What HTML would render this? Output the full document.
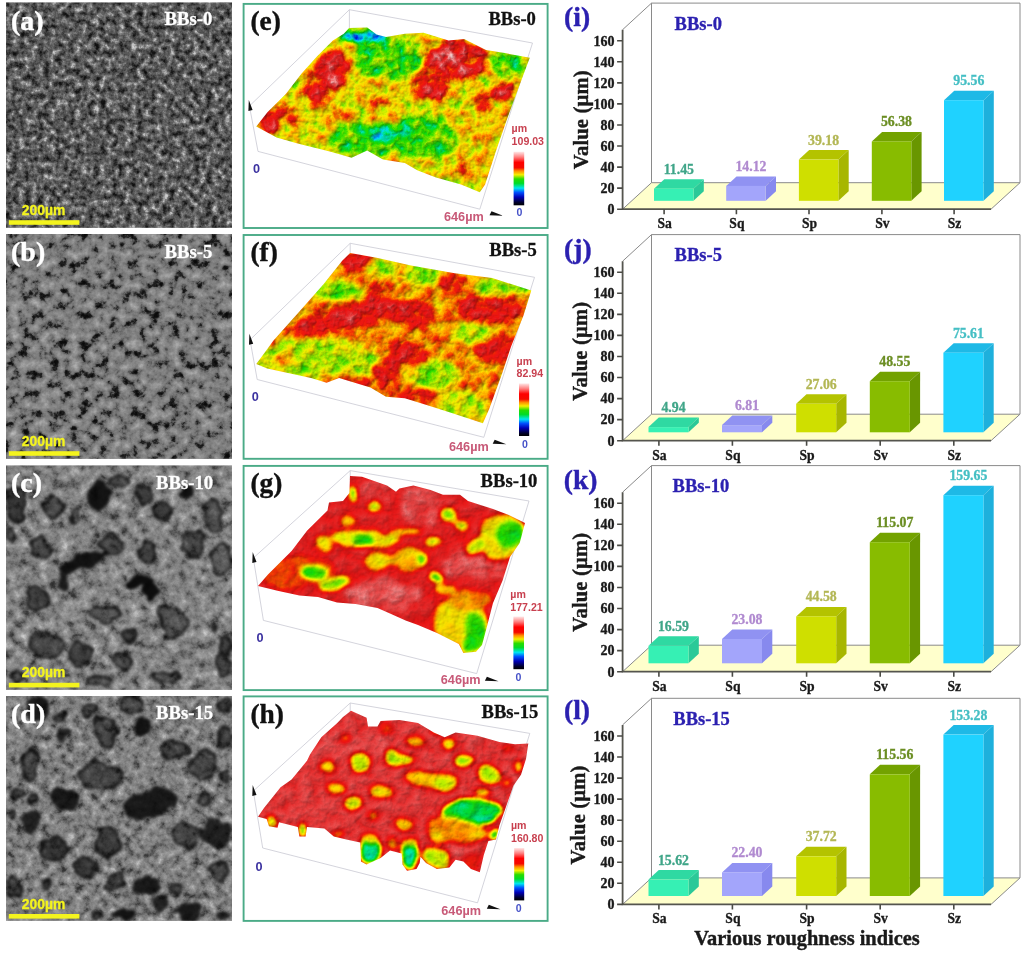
<!DOCTYPE html>
<html lang="en"><head><meta charset="utf-8"><title>Surface roughness figure</title>
<style>
html,body{margin:0;padding:0;background:#fff;}
body{width:1024px;height:954px;overflow:hidden;}
svg{display:block;}
text{font-family:"Liberation Serif",serif;font-weight:bold;}
.tk{font-size:14px;fill:#1a1a1a;stroke:#1a1a1a;stroke-width:.35px;}
.ct{font-size:13.6px;fill:#1a1a1a;stroke:#1a1a1a;stroke-width:.3px;}
.vl{font-size:13.8px;stroke-width:.3px;}
.yl{font-size:20.6px;fill:#1a1a1a;stroke:#1a1a1a;stroke-width:.4px;letter-spacing:.15px;}
.xl{font-size:20.4px;fill:#1a1a1a;stroke:#1a1a1a;stroke-width:.4px;}
.tagb{font-size:27.6px;fill:#2b20b0;stroke:#2b20b0;stroke-width:.4px;}
.nmb{font-size:18.5px;fill:#2b20b0;stroke:#2b20b0;stroke-width:.3px;}
.tagw{font-size:28px;fill:#fff;stroke:#fff;stroke-width:.4px;}
.nmw{font-size:18.7px;fill:#fff;stroke:#fff;stroke-width:.3px;}
.tagk{font-size:27.4px;fill:#111;stroke:#111;stroke-width:.4px;}
.nmk{font-size:18.6px;fill:#111;stroke:#111;stroke-width:.3px;}
.sb,.cb,.ax{font-family:"Liberation Sans",sans-serif;font-weight:bold;}
.sb{font-size:13.9px;fill:#f4f41e;stroke:#f4f41e;stroke-width:.3px;}
.cb{font-size:10.6px;}
.ax{font-size:12.7px;}
</style></head>
<body>
<svg width="1024" height="954" viewBox="0 0 1024 954">
<defs>
<filter id="sn0" filterUnits="userSpaceOnUse" x="6.0" y="2.5" width="226.0" height="225.2" color-interpolation-filters="sRGB">
<feTurbulence type="fractalNoise" baseFrequency="0.16" numOctaves="4" seed="3" result="t"/>
<feColorMatrix in="t" type="matrix" values="1 0 0 0 0 1 0 0 0 0 1 0 0 0 0 0 0 0 0 1"/>
<feComponentTransfer><feFuncR type="table" tableValues="0.030 0.036 0.042 0.049 0.055 0.061 0.068 0.074 0.080 0.103 0.125 0.148 0.170 0.195 0.220 0.245 0.270 0.294 0.312 0.331 0.350 0.372 0.394 0.416 0.443 0.473 0.502 0.531 0.560 0.605 0.650 0.695 0.740 0.760 0.780 0.800 0.820 0.840 0.860 0.880 0.900"/><feFuncG type="table" tableValues="0.030 0.036 0.042 0.049 0.055 0.061 0.068 0.074 0.080 0.103 0.125 0.148 0.170 0.195 0.220 0.245 0.270 0.294 0.312 0.331 0.350 0.372 0.394 0.416 0.443 0.473 0.502 0.531 0.560 0.605 0.650 0.695 0.740 0.760 0.780 0.800 0.820 0.840 0.860 0.880 0.900"/><feFuncB type="table" tableValues="0.030 0.036 0.042 0.049 0.055 0.061 0.068 0.074 0.080 0.103 0.125 0.148 0.170 0.195 0.220 0.245 0.270 0.294 0.312 0.331 0.350 0.372 0.394 0.416 0.443 0.473 0.502 0.531 0.560 0.605 0.650 0.695 0.740 0.760 0.780 0.800 0.820 0.840 0.860 0.880 0.900"/></feComponentTransfer>
</filter>
<clipPath id="sc0"><rect x="6.0" y="2.5" width="226.0" height="225.2"/></clipPath>
<filter id="sn1" filterUnits="userSpaceOnUse" x="6.0" y="234.0" width="226.0" height="224.8" color-interpolation-filters="sRGB">
<feTurbulence type="fractalNoise" baseFrequency="0.1" numOctaves="4" seed="11" result="t"/>
<feColorMatrix in="t" type="matrix" values="1 0 0 0 0 1 0 0 0 0 1 0 0 0 0 0 0 0 0 1"/>
<feComponentTransfer><feFuncR type="table" tableValues="0.020 0.024 0.028 0.031 0.035 0.039 0.043 0.046 0.050 0.073 0.095 0.118 0.140 0.208 0.276 0.337 0.371 0.406 0.440 0.460 0.480 0.492 0.505 0.518 0.530 0.542 0.555 0.568 0.580 0.595 0.610 0.625 0.640 0.654 0.668 0.681 0.695 0.709 0.723 0.736 0.750"/><feFuncG type="table" tableValues="0.020 0.024 0.028 0.031 0.035 0.039 0.043 0.046 0.050 0.073 0.095 0.118 0.140 0.208 0.276 0.337 0.371 0.406 0.440 0.460 0.480 0.492 0.505 0.518 0.530 0.542 0.555 0.568 0.580 0.595 0.610 0.625 0.640 0.654 0.668 0.681 0.695 0.709 0.723 0.736 0.750"/><feFuncB type="table" tableValues="0.020 0.024 0.028 0.031 0.035 0.039 0.043 0.046 0.050 0.073 0.095 0.118 0.140 0.208 0.276 0.337 0.371 0.406 0.440 0.460 0.480 0.492 0.505 0.518 0.530 0.542 0.555 0.568 0.580 0.595 0.610 0.625 0.640 0.654 0.668 0.681 0.695 0.709 0.723 0.736 0.750"/></feComponentTransfer>
</filter>
<clipPath id="sc1"><rect x="6.0" y="234.0" width="226.0" height="224.8"/></clipPath>
<filter id="sn2" filterUnits="userSpaceOnUse" x="6.0" y="465.5" width="226.0" height="224.3" color-interpolation-filters="sRGB">
<feTurbulence type="fractalNoise" baseFrequency="0.1" numOctaves="4" seed="7" result="t"/>
<feColorMatrix in="t" type="matrix" values="1 0 0 0 0 1 0 0 0 0 1 0 0 0 0 0 0 0 0 1"/>
<feComponentTransfer><feFuncR type="table" tableValues="0.120 0.135 0.150 0.165 0.180 0.195 0.210 0.225 0.240 0.267 0.295 0.323 0.350 0.373 0.396 0.419 0.442 0.463 0.479 0.494 0.510 0.523 0.535 0.548 0.562 0.576 0.591 0.605 0.620 0.640 0.660 0.680 0.700 0.719 0.738 0.756 0.775 0.794 0.812 0.831 0.850"/><feFuncG type="table" tableValues="0.120 0.135 0.150 0.165 0.180 0.195 0.210 0.225 0.240 0.267 0.295 0.323 0.350 0.373 0.396 0.419 0.442 0.463 0.479 0.494 0.510 0.523 0.535 0.548 0.562 0.576 0.591 0.605 0.620 0.640 0.660 0.680 0.700 0.719 0.738 0.756 0.775 0.794 0.812 0.831 0.850"/><feFuncB type="table" tableValues="0.120 0.135 0.150 0.165 0.180 0.195 0.210 0.225 0.240 0.267 0.295 0.323 0.350 0.373 0.396 0.419 0.442 0.463 0.479 0.494 0.510 0.523 0.535 0.548 0.562 0.576 0.591 0.605 0.620 0.640 0.660 0.680 0.700 0.719 0.738 0.756 0.775 0.794 0.812 0.831 0.850"/></feComponentTransfer>
</filter>
<clipPath id="sc2"><rect x="6.0" y="465.5" width="226.0" height="224.3"/></clipPath>
<filter id="sn3" filterUnits="userSpaceOnUse" x="6.0" y="696.0" width="226.0" height="224.8" color-interpolation-filters="sRGB">
<feTurbulence type="fractalNoise" baseFrequency="0.12" numOctaves="4" seed="21" result="t"/>
<feColorMatrix in="t" type="matrix" values="1 0 0 0 0 1 0 0 0 0 1 0 0 0 0 0 0 0 0 1"/>
<feComponentTransfer><feFuncR type="table" tableValues="0.120 0.135 0.150 0.165 0.180 0.195 0.210 0.225 0.240 0.267 0.295 0.323 0.350 0.371 0.392 0.412 0.433 0.453 0.469 0.484 0.500 0.513 0.525 0.538 0.552 0.566 0.581 0.595 0.610 0.630 0.650 0.670 0.690 0.710 0.730 0.750 0.770 0.790 0.810 0.830 0.850"/><feFuncG type="table" tableValues="0.120 0.135 0.150 0.165 0.180 0.195 0.210 0.225 0.240 0.267 0.295 0.323 0.350 0.371 0.392 0.412 0.433 0.453 0.469 0.484 0.500 0.513 0.525 0.538 0.552 0.566 0.581 0.595 0.610 0.630 0.650 0.670 0.690 0.710 0.730 0.750 0.770 0.790 0.810 0.830 0.850"/><feFuncB type="table" tableValues="0.120 0.135 0.150 0.165 0.180 0.195 0.210 0.225 0.240 0.267 0.295 0.323 0.350 0.371 0.392 0.412 0.433 0.453 0.469 0.484 0.500 0.513 0.525 0.538 0.552 0.566 0.581 0.595 0.610 0.630 0.650 0.670 0.690 0.710 0.730 0.750 0.770 0.790 0.810 0.830 0.850"/></feComponentTransfer>
</filter>
<clipPath id="sc3"><rect x="6.0" y="696.0" width="226.0" height="224.8"/></clipPath>
<filter id="sblob" x="-10%" y="-10%" width="120%" height="120%" color-interpolation-filters="sRGB">
<feTurbulence type="fractalNoise" baseFrequency="0.06" numOctaves="2" seed="2" result="d"/>
<feDisplacementMap in="SourceGraphic" in2="d" scale="14" xChannelSelector="R" yChannelSelector="G" result="dd"/>
<feGaussianBlur in="dd" stdDeviation="1.6"/>
</filter>
<linearGradient id="cbar" x1="0" y1="0" x2="0" y2="1">
<stop offset="0" stop-color="#ffe8e8"/><stop offset="0.10" stop-color="#ff8080"/><stop offset="0.20" stop-color="#ff0000"/>
<stop offset="0.30" stop-color="#f40a00"/><stop offset="0.36" stop-color="#ff8c00"/><stop offset="0.43" stop-color="#f5f000"/>
<stop offset="0.51" stop-color="#28dc00"/><stop offset="0.59" stop-color="#00dc28"/><stop offset="0.68" stop-color="#00e6f0"/>
<stop offset="0.76" stop-color="#0050ff"/><stop offset="0.85" stop-color="#0000b4"/><stop offset="0.95" stop-color="#000028"/>
<stop offset="1" stop-color="#000000"/></linearGradient>
<clipPath id="vc0"><polygon points="349.1,28.1 367.2,27.5 376.6,34.4 386,36.9 404.8,33.8 423.5,32.8 448.5,40.6 464.1,39.1 486,50 504.8,53.1 529.8,57.8 521,81.2 507.2,118.8 496.3,150 485.1,184.4 479.8,192.2 461,184.4 436,177.5 417.2,170.3 404.8,163.1 382.9,159.4 367.2,150.6 351.6,157.8 329.8,151.6 298.5,143.8 276.6,137.5 256.3,126.6 267.2,112.5 286,93.8 301.6,73.4 317.2,56.2 332.9,40.6 343.8,33.8"/></clipPath>
<filter id="vf0" filterUnits="userSpaceOnUse" x="252.3" y="23.5" width="281.4" height="172.7" color-interpolation-filters="sRGB">
<feTurbulence type="fractalNoise" baseFrequency="0.035" numOctaves="2" seed="44" result="dn"/>
<feDisplacementMap in="SourceGraphic" in2="dn" scale="12" xChannelSelector="R" yChannelSelector="G" result="dh"/>
<feGaussianBlur in="dh" stdDeviation="3.0" result="h"/>
<feTurbulence type="fractalNoise" baseFrequency="0.09" numOctaves="4" seed="4" result="n"/>
<feColorMatrix in="n" type="matrix" values="1 0 0 0 0 1 0 0 0 0 1 0 0 0 0 0 0 0 0 1" result="ng"/>
<feComposite in="h" in2="ng" operator="arithmetic" k1="0" k2="1" k3="0.4" k4="-0.200" result="hn"/>
<feComponentTransfer in="hn" result="col"><feFuncR type="table" tableValues="0.000 0.000 0.000 0.000 0.000 0.000 0.000 0.000 0.118 0.392 0.706 0.941 1.000 1.000 0.980 0.941 0.922 0.902 0.922 0.961 1.000"/><feFuncG type="table" tableValues="0.000 0.000 0.000 0.235 0.588 0.863 0.902 0.863 0.863 0.902 0.941 0.941 0.824 0.627 0.353 0.118 0.078 0.157 0.314 0.588 0.863"/><feFuncB type="table" tableValues="0.000 0.353 0.784 1.000 1.000 0.941 0.627 0.235 0.000 0.000 0.000 0.000 0.000 0.000 0.000 0.039 0.078 0.157 0.314 0.588 0.863"/><feFuncA type="linear" slope="0" intercept="1"/></feComponentTransfer>
<feColorMatrix in="n" type="matrix" values="0 0 0 0 0 0 0 0 0 0 0 0 0 0 0 1 0 0 0 0" result="ha"/>
<feDiffuseLighting in="ha" surfaceScale="2" diffuseConstant="1.12" lighting-color="#ffffff" result="lit"><feDistantLight azimuth="235" elevation="58"/></feDiffuseLighting>
<feBlend in="col" in2="lit" mode="multiply"/>
</filter>
<clipPath id="vc1"><polygon points="350.1,253 376.6,257.7 411,265.5 454.8,273.3 492.2,278 531.3,290.5 523.5,315.5 511,346.8 501.6,374.9 489.1,409.2 482.9,423.3 454.8,413.9 429.8,406.1 404.8,398.3 386,396.8 370.4,387.4 339.1,378 326.6,382.7 311,378 267.2,368.6 256.3,363.9 273.5,340.5 298.5,312.4 323.5,284.2 342.2,260.8"/></clipPath>
<filter id="vf1" filterUnits="userSpaceOnUse" x="252.3" y="249" width="283" height="178.3" color-interpolation-filters="sRGB">
<feTurbulence type="fractalNoise" baseFrequency="0.035" numOctaves="2" seed="49" result="dn"/>
<feDisplacementMap in="SourceGraphic" in2="dn" scale="12" xChannelSelector="R" yChannelSelector="G" result="dh"/>
<feGaussianBlur in="dh" stdDeviation="3.0" result="h"/>
<feTurbulence type="fractalNoise" baseFrequency="0.09" numOctaves="4" seed="9" result="n"/>
<feColorMatrix in="n" type="matrix" values="1 0 0 0 0 1 0 0 0 0 1 0 0 0 0 0 0 0 0 1" result="ng"/>
<feComposite in="h" in2="ng" operator="arithmetic" k1="0" k2="1" k3="0.3" k4="-0.150" result="hn"/>
<feComponentTransfer in="hn" result="col"><feFuncR type="table" tableValues="0.000 0.000 0.000 0.000 0.000 0.000 0.000 0.000 0.118 0.392 0.706 0.941 1.000 1.000 0.980 0.941 0.922 0.902 0.922 0.961 1.000"/><feFuncG type="table" tableValues="0.000 0.000 0.000 0.235 0.588 0.863 0.902 0.863 0.863 0.902 0.941 0.941 0.824 0.627 0.353 0.118 0.078 0.157 0.314 0.588 0.863"/><feFuncB type="table" tableValues="0.000 0.353 0.784 1.000 1.000 0.941 0.627 0.235 0.000 0.000 0.000 0.000 0.000 0.000 0.000 0.039 0.078 0.157 0.314 0.588 0.863"/><feFuncA type="linear" slope="0" intercept="1"/></feComponentTransfer>
<feColorMatrix in="n" type="matrix" values="0 0 0 0 0 0 0 0 0 0 0 0 0 0 0 1 0 0 0 0" result="ha"/>
<feDiffuseLighting in="ha" surfaceScale="2" diffuseConstant="1.12" lighting-color="#ffffff" result="lit"><feDistantLight azimuth="235" elevation="58"/></feDiffuseLighting>
<feBlend in="col" in2="lit" mode="multiply"/>
</filter>
<clipPath id="vc2"><polygon points="350,476 362,476.8 387,485.4 396,491.7 399.4,488.6 413.4,485.4 430.6,490 443,494.8 460,494.8 468,501 493,508.9 508.8,515 525,523 519.7,543 510,557 502.5,580.8 493,603 486.9,626.7 482,645 476,651.7 463.4,653 458.8,644 437,633 418,625 405.6,620.4 390,613.4 377.5,608 355.6,604 337,602.5 318,597 299.4,595.4 277.5,590.8 258,586 268,574.5 291.6,551 307,530.8 327.5,510.4 329,502.6 343,501 349.4,493"/></clipPath>
<filter id="vf2" filterUnits="userSpaceOnUse" x="254" y="472" width="275" height="185" color-interpolation-filters="sRGB">
<feTurbulence type="fractalNoise" baseFrequency="0.035" numOctaves="2" seed="54" result="dn"/>
<feDisplacementMap in="SourceGraphic" in2="dn" scale="12" xChannelSelector="R" yChannelSelector="G" result="dh"/>
<feGaussianBlur in="dh" stdDeviation="2.6" result="h"/>
<feTurbulence type="fractalNoise" baseFrequency="0.07" numOctaves="4" seed="14" result="n"/>
<feColorMatrix in="n" type="matrix" values="1 0 0 0 0 1 0 0 0 0 1 0 0 0 0 0 0 0 0 1" result="ng"/>
<feComposite in="h" in2="ng" operator="arithmetic" k1="0" k2="1" k3="0.12" k4="-0.060" result="hn"/>
<feComponentTransfer in="hn" result="col"><feFuncR type="table" tableValues="0.000 0.000 0.000 0.000 0.000 0.000 0.000 0.000 0.118 0.392 0.706 0.941 1.000 1.000 0.980 0.941 0.922 0.902 0.922 0.961 1.000"/><feFuncG type="table" tableValues="0.000 0.000 0.000 0.235 0.588 0.863 0.902 0.863 0.863 0.902 0.941 0.941 0.824 0.627 0.353 0.118 0.078 0.157 0.314 0.588 0.863"/><feFuncB type="table" tableValues="0.000 0.353 0.784 1.000 1.000 0.941 0.627 0.235 0.000 0.000 0.000 0.000 0.000 0.000 0.000 0.039 0.078 0.157 0.314 0.588 0.863"/><feFuncA type="linear" slope="0" intercept="1"/></feComponentTransfer>
<feColorMatrix in="n" type="matrix" values="0 0 0 0 0 0 0 0 0 0 0 0 0 0 0 1 0 0 0 0" result="ha"/>
<feDiffuseLighting in="ha" surfaceScale="1.3" diffuseConstant="1.12" lighting-color="#ffffff" result="lit"><feDistantLight azimuth="235" elevation="58"/></feDiffuseLighting>
<feBlend in="col" in2="lit" mode="multiply"/>
</filter>
<clipPath id="vc3"><polygon points="351,710.8 366.6,717.8 368,726.4 377.5,726.4 380.6,721 399.4,720 418,723 433.8,732.6 444.7,737.3 455.6,732.6 477.5,735.8 499.4,742 515,744.3 528.3,743.6 526,759 521,774.8 513.4,785.8 505.6,808 499.4,825.4 496,839.5 488.4,841 483.8,855 479.8,872.3 471,869 463.4,861.4 455.6,859.8 449.4,867.6 436.9,869 426,863 420.5,856.7 419.7,863 416.5,869 407,870.8 402.5,864.5 401.7,853.5 390,850.4 380.6,858 366.5,864.5 361,861.4 360.3,842.6 346.3,839.5 333.8,836.4 324.4,828.5 307,827 305.6,836.4 299.4,836.4 297.8,827 279,822.3 277.5,827.8 269,826.2 266.6,819 258,816.8 264,808 280.6,787.3 291.6,779.5 307,760.8 310,754.5 321.3,737.3 337,723.3 343,717"/></clipPath>
<filter id="vf3" filterUnits="userSpaceOnUse" x="254" y="706.8" width="278.3" height="169.5" color-interpolation-filters="sRGB">
<feTurbulence type="fractalNoise" baseFrequency="0.035" numOctaves="2" seed="59" result="dn"/>
<feDisplacementMap in="SourceGraphic" in2="dn" scale="12" xChannelSelector="R" yChannelSelector="G" result="dh"/>
<feGaussianBlur in="dh" stdDeviation="2.6" result="h"/>
<feTurbulence type="fractalNoise" baseFrequency="0.09" numOctaves="4" seed="19" result="n"/>
<feColorMatrix in="n" type="matrix" values="1 0 0 0 0 1 0 0 0 0 1 0 0 0 0 0 0 0 0 1" result="ng"/>
<feComposite in="h" in2="ng" operator="arithmetic" k1="0" k2="1" k3="0.09" k4="-0.045" result="hn"/>
<feComponentTransfer in="hn" result="col"><feFuncR type="table" tableValues="0.000 0.000 0.000 0.000 0.000 0.000 0.000 0.000 0.118 0.392 0.706 0.941 1.000 1.000 0.980 0.941 0.922 0.902 0.922 0.961 1.000"/><feFuncG type="table" tableValues="0.000 0.000 0.000 0.235 0.588 0.863 0.902 0.863 0.863 0.902 0.941 0.941 0.824 0.627 0.353 0.118 0.078 0.157 0.314 0.588 0.863"/><feFuncB type="table" tableValues="0.000 0.353 0.784 1.000 1.000 0.941 0.627 0.235 0.000 0.000 0.000 0.000 0.000 0.000 0.000 0.039 0.078 0.157 0.314 0.588 0.863"/><feFuncA type="linear" slope="0" intercept="1"/></feComponentTransfer>
<feColorMatrix in="n" type="matrix" values="0 0 0 0 0 0 0 0 0 0 0 0 0 0 0 1 0 0 0 0" result="ha"/>
<feDiffuseLighting in="ha" surfaceScale="1.3" diffuseConstant="1.12" lighting-color="#ffffff" result="lit"><feDistantLight azimuth="235" elevation="58"/></feDiffuseLighting>
<feBlend in="col" in2="lit" mode="multiply"/>
</filter>
</defs>
<rect width="1024" height="954" fill="#fff"/>
<g clip-path="url(#sc0)">
<rect x="6.0" y="2.5" width="226.0" height="225.2" fill="#777"/>
<rect x="6.0" y="2.5" width="226.0" height="225.2" fill="#777" filter="url(#sn0)"/>
<rect x="8.8" y="220.2" width="70.6" height="4.6" fill="#f4f41e"/>
<text x="21.8" y="215.2" class="sb">200µm</text>
<text x="11" y="30.1" class="tagw">(a)</text>
<text x="164.5" y="25.1" class="nmw">BBs-0</text>
</g>
<g clip-path="url(#sc1)">
<rect x="6.0" y="234.0" width="226.0" height="224.8" fill="#777"/>
<rect x="6.0" y="234.0" width="226.0" height="224.8" fill="#777" filter="url(#sn1)"/>
<rect x="8.8" y="451.2" width="70.6" height="4.6" fill="#f4f41e"/>
<text x="21.8" y="445.8" class="sb">200µm</text>
<text x="11" y="260.9" class="tagw">(b)</text>
<text x="164.5" y="257.5" class="nmw">BBs-5</text>
</g>
<g clip-path="url(#sc2)">
<rect x="6.0" y="465.5" width="226.0" height="224.3" fill="#777"/>
<rect x="6.0" y="465.5" width="226.0" height="224.3" fill="#777" filter="url(#sn2)"/>
<g filter="url(#sblob)">
<ellipse cx="16.3" cy="505.8" rx="10.3" ry="17.9" fill="#0a0a0a" fill-opacity="0.64" stroke="#000" stroke-opacity="0.8" stroke-width="2.4"/>
<ellipse cx="54.1" cy="508.3" rx="7.8" ry="11.6" fill="#0a0a0a" fill-opacity="0.51" stroke="#000" stroke-opacity="0.8" stroke-width="2.4"/>
<ellipse cx="99.3" cy="495.7" rx="9.6" ry="16.3" fill="#060606" fill-opacity="0.9"/>
<ellipse cx="118.2" cy="480.6" rx="10.3" ry="6.5" fill="#0a0a0a" fill-opacity="0.51" stroke="#000" stroke-opacity="0.8" stroke-width="2.4"/>
<ellipse cx="144.6" cy="495.7" rx="7.8" ry="10.3" fill="#0a0a0a" fill-opacity="0.59" stroke="#000" stroke-opacity="0.8" stroke-width="2.4"/>
<ellipse cx="163.4" cy="510.8" rx="9.1" ry="8.6" fill="#0a0a0a" fill-opacity="0.59" stroke="#000" stroke-opacity="0.8" stroke-width="2.4"/>
<ellipse cx="187.3" cy="491.9" rx="6.3" ry="6.3" fill="#060606" fill-opacity="0.9"/>
<ellipse cx="213.7" cy="515.8" rx="8.6" ry="16.6" fill="#0a0a0a" fill-opacity="0.47" stroke="#000" stroke-opacity="0.8" stroke-width="2.4"/>
<ellipse cx="193.6" cy="543.5" rx="11.6" ry="14.1" fill="#0a0a0a" fill-opacity="0.51" stroke="#000" stroke-opacity="0.8" stroke-width="2.4"/>
<ellipse cx="41.5" cy="548.5" rx="9.6" ry="11.1" fill="#0a0a0a" fill-opacity="0.51" stroke="#000" stroke-opacity="0.8" stroke-width="2.4"/>
<ellipse cx="113.2" cy="546" rx="11.1" ry="11.1" fill="#0a0a0a" fill-opacity="0.51" stroke="#000" stroke-opacity="0.8" stroke-width="2.4"/>
<ellipse cx="83" cy="561.1" rx="23.9" ry="7.5" fill="#060606" fill-opacity="0.9" transform="rotate(-22 83 561.1)"/>
<ellipse cx="145.8" cy="553.5" rx="10.3" ry="9.1" fill="#0a0a0a" fill-opacity="0.55" stroke="#000" stroke-opacity="0.8" stroke-width="2.4"/>
<ellipse cx="62.9" cy="581.2" rx="6.3" ry="11.3" fill="#060606" fill-opacity="0.85" transform="rotate(20 62.9 581.2)"/>
<ellipse cx="37.7" cy="596.3" rx="11.6" ry="10.3" fill="#0a0a0a" fill-opacity="0.59" stroke="#000" stroke-opacity="0.8" stroke-width="2.4"/>
<ellipse cx="139.6" cy="581.2" rx="12.6" ry="7" fill="#060606" fill-opacity="0.95"/>
<ellipse cx="150.9" cy="592.5" rx="7.5" ry="10.1" fill="#060606" fill-opacity="0.95"/>
<ellipse cx="105.6" cy="613.9" rx="12.8" ry="10.3" fill="#0a0a0a" fill-opacity="0.38" stroke="#000" stroke-opacity="0.8" stroke-width="2.4"/>
<ellipse cx="173.5" cy="621.4" rx="12.8" ry="15.3" fill="#0a0a0a" fill-opacity="0.42" stroke="#000" stroke-opacity="0.8" stroke-width="2.4"/>
<ellipse cx="46.5" cy="646.6" rx="15.3" ry="12.8" fill="#0a0a0a" fill-opacity="0.51" stroke="#000" stroke-opacity="0.8" stroke-width="2.4"/>
<ellipse cx="80.5" cy="654.1" rx="10.3" ry="11.6" fill="#0a0a0a" fill-opacity="0.59" stroke="#000" stroke-opacity="0.8" stroke-width="2.4"/>
<ellipse cx="129.5" cy="636.5" rx="7.3" ry="7.3" fill="#0a0a0a" fill-opacity="0.59" stroke="#000" stroke-opacity="0.8" stroke-width="2.4"/>
<ellipse cx="123.2" cy="661.7" rx="7.3" ry="7.3" fill="#0a0a0a" fill-opacity="0.47" stroke="#000" stroke-opacity="0.8" stroke-width="2.4"/>
<ellipse cx="226.3" cy="646.6" rx="5.3" ry="10.3" fill="#0a0a0a" fill-opacity="0.59" stroke="#000" stroke-opacity="0.8" stroke-width="2.4"/>
<ellipse cx="223.8" cy="666.7" rx="6.5" ry="9.1" fill="#0a0a0a" fill-opacity="0.51" stroke="#000" stroke-opacity="0.8" stroke-width="2.4"/>
<ellipse cx="166" cy="676.8" rx="11.6" ry="5.3" fill="#0a0a0a" fill-opacity="0.38" stroke="#000" stroke-opacity="0.8" stroke-width="2.4"/>
<ellipse cx="215" cy="627.7" rx="3" ry="3" fill="#0a0a0a" fill-opacity="0.51" stroke="#000" stroke-opacity="0.8" stroke-width="2.4"/>
<ellipse cx="10.1" cy="535.9" rx="3.5" ry="5.3" fill="#0a0a0a" fill-opacity="0.42" stroke="#000" stroke-opacity="0.8" stroke-width="2.4"/>
<ellipse cx="221.3" cy="558.6" rx="10.3" ry="14.1" fill="#0a0a0a" fill-opacity="0.34" stroke="#000" stroke-opacity="0.8" stroke-width="2.4"/>
<ellipse cx="15.1" cy="676.8" rx="6.5" ry="6.5" fill="#0a0a0a" fill-opacity="0.42" stroke="#000" stroke-opacity="0.8" stroke-width="2.4"/>
<ellipse cx="100.6" cy="679.3" rx="10.3" ry="6.5" fill="#0a0a0a" fill-opacity="0.42" stroke="#000" stroke-opacity="0.8" stroke-width="2.4"/>
<ellipse cx="72.9" cy="515.8" rx="4" ry="9.1" fill="#0a0a0a" fill-opacity="0.42" stroke="#000" stroke-opacity="0.8" stroke-width="2.4"/>
</g>
<rect x="8.8" y="682.8" width="70.6" height="4.6" fill="#f4f41e"/>
<text x="21.8" y="677.4" class="sb">200µm</text>
<text x="11" y="492.3" class="tagw">(c)</text>
<text x="156" y="488.6" class="nmw">BBs-10</text>
</g>
<g clip-path="url(#sc3)">
<rect x="6.0" y="696.0" width="226.0" height="224.8" fill="#777"/>
<rect x="6.0" y="696.0" width="226.0" height="224.8" fill="#777" filter="url(#sn3)"/>
<g filter="url(#sblob)">
<ellipse cx="37.7" cy="710.1" rx="11.3" ry="15.1" fill="#060606" fill-opacity="0.85"/>
<ellipse cx="62.9" cy="734" rx="7.5" ry="6" fill="#060606" fill-opacity="0.8"/>
<ellipse cx="89.3" cy="708.9" rx="9.1" ry="7.8" fill="#0a0a0a" fill-opacity="0.51" stroke="#000" stroke-opacity="0.8" stroke-width="2.4"/>
<ellipse cx="105.6" cy="730.2" rx="11.6" ry="15.3" fill="#0a0a0a" fill-opacity="0.51" stroke="#000" stroke-opacity="0.8" stroke-width="2.4"/>
<ellipse cx="130.8" cy="705.1" rx="11.6" ry="7.8" fill="#0a0a0a" fill-opacity="0.51" stroke="#000" stroke-opacity="0.8" stroke-width="2.4"/>
<ellipse cx="142.1" cy="726.5" rx="8.8" ry="11.3" fill="#060606" fill-opacity="0.9"/>
<ellipse cx="173.5" cy="750.3" rx="13.6" ry="9.1" fill="#0a0a0a" fill-opacity="0.55" stroke="#000" stroke-opacity="0.8" stroke-width="2.4"/>
<ellipse cx="203.7" cy="765.4" rx="11.6" ry="14.1" fill="#0a0a0a" fill-opacity="0.51" stroke="#000" stroke-opacity="0.8" stroke-width="2.4"/>
<ellipse cx="223.8" cy="737.8" rx="6" ry="10.3" fill="#0a0a0a" fill-opacity="0.55" stroke="#000" stroke-opacity="0.8" stroke-width="2.4"/>
<ellipse cx="30.2" cy="764.2" rx="8.6" ry="15.3" fill="#0a0a0a" fill-opacity="0.51" stroke="#000" stroke-opacity="0.8" stroke-width="2.4"/>
<ellipse cx="100.6" cy="776.7" rx="19.1" ry="14.6" fill="#0a0a0a" fill-opacity="0.51" stroke="#000" stroke-opacity="0.8" stroke-width="2.4"/>
<ellipse cx="64.1" cy="799.4" rx="13.1" ry="10.1" fill="#060606" fill-opacity="0.85"/>
<ellipse cx="17.6" cy="794.4" rx="6.5" ry="5.3" fill="#0a0a0a" fill-opacity="0.59" stroke="#000" stroke-opacity="0.8" stroke-width="2.4"/>
<ellipse cx="148.4" cy="804.4" rx="28.9" ry="13.8" fill="#060606" fill-opacity="0.85" transform="rotate(-10 148.4 804.4)"/>
<ellipse cx="204.9" cy="800.6" rx="7.3" ry="7.3" fill="#0a0a0a" fill-opacity="0.55" stroke="#000" stroke-opacity="0.8" stroke-width="2.4"/>
<ellipse cx="32.7" cy="820.8" rx="10.8" ry="12.6" fill="#060606" fill-opacity="0.8"/>
<ellipse cx="108.1" cy="842.1" rx="12.8" ry="12.8" fill="#0a0a0a" fill-opacity="0.59" stroke="#000" stroke-opacity="0.8" stroke-width="2.4"/>
<ellipse cx="55.3" cy="847.2" rx="12.8" ry="10.3" fill="#0a0a0a" fill-opacity="0.64" stroke="#000" stroke-opacity="0.8" stroke-width="2.4"/>
<ellipse cx="186.1" cy="835.8" rx="15.3" ry="11.1" fill="#0a0a0a" fill-opacity="0.51" stroke="#000" stroke-opacity="0.8" stroke-width="2.4"/>
<ellipse cx="216.2" cy="833.3" rx="15.1" ry="15.1" fill="#060606" fill-opacity="0.8"/>
<ellipse cx="86.7" cy="868.5" rx="11.6" ry="9.1" fill="#0a0a0a" fill-opacity="0.64" stroke="#000" stroke-opacity="0.8" stroke-width="2.4"/>
<ellipse cx="147.1" cy="886.1" rx="13.8" ry="7.5" fill="#060606" fill-opacity="0.85"/>
<ellipse cx="115.7" cy="882.4" rx="6.5" ry="6.5" fill="#0a0a0a" fill-opacity="0.59" stroke="#000" stroke-opacity="0.8" stroke-width="2.4"/>
<ellipse cx="46.5" cy="883.6" rx="4" ry="4" fill="#0a0a0a" fill-opacity="0.59" stroke="#000" stroke-opacity="0.8" stroke-width="2.4"/>
<ellipse cx="12.6" cy="886.1" rx="6.5" ry="11.6" fill="#0a0a0a" fill-opacity="0.59" stroke="#000" stroke-opacity="0.8" stroke-width="2.4"/>
<ellipse cx="218.8" cy="871" rx="7.8" ry="9.1" fill="#0a0a0a" fill-opacity="0.51" stroke="#000" stroke-opacity="0.8" stroke-width="2.4"/>
<ellipse cx="188.6" cy="911.3" rx="12.6" ry="10.1" fill="#060606" fill-opacity="0.85"/>
<ellipse cx="124.5" cy="913.8" rx="11.3" ry="7.5" fill="#060606" fill-opacity="0.9"/>
<ellipse cx="160.9" cy="903.7" rx="8.8" ry="8.8" fill="#060606" fill-opacity="0.8"/>
<ellipse cx="223.8" cy="916.3" rx="7.5" ry="5.5" fill="#060606" fill-opacity="0.8"/>
<ellipse cx="225" cy="776.7" rx="4" ry="5.3" fill="#0a0a0a" fill-opacity="0.59" stroke="#000" stroke-opacity="0.8" stroke-width="2.4"/>
<ellipse cx="225" cy="705.1" rx="5.3" ry="6.5" fill="#0a0a0a" fill-opacity="0.59" stroke="#000" stroke-opacity="0.8" stroke-width="2.4"/>
<ellipse cx="10.1" cy="813.2" rx="3.5" ry="4.5" fill="#0a0a0a" fill-opacity="0.59" stroke="#000" stroke-opacity="0.8" stroke-width="2.4"/>
<ellipse cx="176" cy="888.6" rx="5.3" ry="5.3" fill="#0a0a0a" fill-opacity="0.51" stroke="#000" stroke-opacity="0.8" stroke-width="2.4"/>
<ellipse cx="60.3" cy="715.1" rx="5.3" ry="3.5" fill="#0a0a0a" fill-opacity="0.59" stroke="#000" stroke-opacity="0.8" stroke-width="2.4"/>
<ellipse cx="32.7" cy="798.1" rx="3" ry="3" fill="#0a0a0a" fill-opacity="0.51" stroke="#000" stroke-opacity="0.8" stroke-width="2.4"/>
<ellipse cx="95.5" cy="916.3" rx="5.3" ry="2.8" fill="#0a0a0a" fill-opacity="0.51" stroke="#000" stroke-opacity="0.8" stroke-width="2.4"/>
</g>
<rect x="8.8" y="914.0" width="70.6" height="4.6" fill="#f4f41e"/>
<text x="21.8" y="908.5" class="sb">200µm</text>
<text x="11" y="722.9" class="tagw">(d)</text>
<text x="156" y="719.2" class="nmw">BBs-15</text>
</g>
<rect x="243.6" y="3.9" width="304" height="224.1" fill="#fff" stroke="#4aab87" stroke-width="1.9"/>
<path d="M249.4,106 L349.4,9.7 L532.5,43 L479.8,209.2 L258,151.4 Z M349.4,9.7 V32.1" fill="none" stroke="#c9c9d3" stroke-width="0.8"/>
<g clip-path="url(#vc0)"><g filter="url(#vf0)">
<rect x="242.3" y="13.5" width="301.4" height="192.7" fill="#919191"/>
<ellipse cx="485" cy="140" rx="25" ry="40" fill="#999999"/>
<ellipse cx="425" cy="138" rx="35" ry="23" fill="#6b6b6b"/>
<ellipse cx="366" cy="140" rx="40" ry="17" fill="#6b6b6b"/>
<ellipse cx="457" cy="60" rx="33" ry="18" fill="#d1d1d1"/>
<ellipse cx="400" cy="60" rx="20" ry="20" fill="#6b6b6b"/>
<ellipse cx="378" cy="60" rx="22" ry="18" fill="#6b6b6b"/>
<ellipse cx="332" cy="70" rx="17" ry="20" fill="#d1d1d1"/>
<ellipse cx="316" cy="88" rx="17" ry="18" fill="#c7c7c7"/>
<ellipse cx="431" cy="87" rx="21" ry="12" fill="#cccccc"/>
<ellipse cx="508" cy="65" rx="18" ry="12" fill="#6b6b6b"/>
<ellipse cx="372" cy="36" rx="22" ry="7" fill="#404040"/>
<ellipse cx="444" cy="58" rx="14" ry="10" fill="#e6e6e6"/>
<ellipse cx="382" cy="133" rx="17" ry="8" fill="#4c4c4c"/>
<ellipse cx="277" cy="113" rx="17" ry="7" fill="#cccccc"/>
<ellipse cx="505" cy="92" rx="12" ry="9" fill="#d1d1d1"/>
<ellipse cx="268" cy="124" rx="12" ry="8" fill="#d1d1d1"/>
<ellipse cx="333" cy="116" rx="15" ry="6" fill="#adadad"/>
<ellipse cx="332" cy="72" rx="7" ry="12" fill="#e6e6e6"/>
<ellipse cx="291" cy="121" rx="10" ry="8" fill="#b2b2b2"/>
<ellipse cx="482" cy="103" rx="8" ry="9" fill="#d1d1d1"/>
<ellipse cx="380" cy="102" rx="15" ry="4" fill="#cccccc"/>
<ellipse cx="352" cy="36" rx="10" ry="5" fill="#1f1f1f"/>
<ellipse cx="405" cy="130" rx="8" ry="6" fill="#474747"/>
<ellipse cx="465" cy="170" rx="6" ry="8" fill="#b8b8b8"/>
<ellipse cx="507" cy="91" rx="7" ry="4" fill="#e3e3e3"/>
</g></g>
<rect x="513.6" y="151.7" width="10.6" height="53.6" fill="url(#cbar)"/>
<text x="511.6" y="132.3" class="cb" fill="#c8404f">µm</text>
<text x="511.6" y="145.2" class="cb" fill="#c8404f">109.03</text>
<text x="516.4" y="216.3" class="cb" fill="#4652c8">0</text>
<text x="444" y="220.6" class="ax" fill="#c85a78">646µm</text>
<polygon points="491.5,211.3 503.1,215.7 489.5,215.3" fill="#111"/>
<polygon points="248.8,100 252.6,110 248.4,111" fill="#111"/>
<text x="253" y="172.5" class="ax" fill="#3c32a0">0</text>
<text x="250.5" y="29.7" class="tagk">(e)</text>
<text x="488.4" y="24.7" class="nmk">BBs-0</text>
<rect x="243.6" y="235" width="304" height="223.8" fill="#fff" stroke="#4aab87" stroke-width="1.9"/>
<path d="M250,339.8 L350.2,243.3 L534.5,277.3 L483.8,437.3 L257.2,379.5 Z M350.2,243.3 V257" fill="none" stroke="#c9c9d3" stroke-width="0.8"/>
<g clip-path="url(#vc1)"><g filter="url(#vf1)">
<rect x="242.3" y="239" width="303" height="198.3" fill="#a8a8a8"/>
<ellipse cx="318" cy="358" rx="60" ry="20" fill="#808080"/>
<ellipse cx="345" cy="318" rx="58" ry="13" fill="#d1d1d1" transform="rotate(-14 345 318)"/>
<ellipse cx="491" cy="310" rx="33" ry="15" fill="#cccccc"/>
<ellipse cx="436" cy="375" rx="23" ry="17" fill="#7a7a7a"/>
<ellipse cx="460" cy="408" rx="26" ry="15" fill="#858585"/>
<ellipse cx="413" cy="315" rx="23" ry="14" fill="#cccccc"/>
<ellipse cx="340" cy="290" rx="25" ry="11" fill="#787878"/>
<ellipse cx="500" cy="287" rx="30" ry="9" fill="#787878"/>
<ellipse cx="495" cy="348" rx="20" ry="12" fill="#cccccc"/>
<ellipse cx="410" cy="352" rx="20" ry="12" fill="#cccccc"/>
<ellipse cx="413" cy="395" rx="23" ry="9" fill="#c2c2c2"/>
<ellipse cx="423" cy="275" rx="18" ry="11" fill="#737373"/>
<ellipse cx="387" cy="373" rx="13" ry="15" fill="#c7c7c7"/>
<ellipse cx="471" cy="335" rx="19" ry="9" fill="#808080"/>
<ellipse cx="384" cy="267" rx="16" ry="10" fill="#808080"/>
<ellipse cx="451" cy="283" rx="14" ry="11" fill="#c2c2c2"/>
<ellipse cx="353" cy="381" rx="20" ry="6" fill="#cccccc"/>
<ellipse cx="355" cy="259" rx="13" ry="8" fill="#d1d1d1"/>
<ellipse cx="377" cy="293" rx="12" ry="8" fill="#cccccc"/>
<ellipse cx="281" cy="356" rx="10" ry="6" fill="#adadad"/>
<ellipse cx="521" cy="290" rx="9" ry="4" fill="#666666"/>
</g></g>
<rect x="519" y="383.4" width="10.2" height="52.6" fill="url(#cbar)"/>
<text x="516.6" y="364.7" class="cb" fill="#c8404f">µm</text>
<text x="516.6" y="377.2" class="cb" fill="#c8404f">82.94</text>
<text x="522" y="447.5" class="cb" fill="#4652c8">0</text>
<text x="449" y="451.4" class="ax" fill="#c85a78">646µm</text>
<polygon points="494.7,439.8 506.3,444.2 492.7,443.8" fill="#111"/>
<polygon points="249.4,333.8 253.2,343.8 249,344.8" fill="#111"/>
<text x="251.7" y="401" class="ax" fill="#3c32a0">0</text>
<text x="250.5" y="260.6" class="tagk">(f)</text>
<text x="489.3" y="255.7" class="nmk">BBs-5</text>
<rect x="243.6" y="465.9" width="304" height="224.2" fill="#fff" stroke="#4aab87" stroke-width="1.9"/>
<path d="M253.3,558 L350.2,470.6 L529,501 L476.7,673.6 L263.4,620.4 Z M350.2,470.6 V480" fill="none" stroke="#c9c9d3" stroke-width="0.8"/>
<g clip-path="url(#vc2)"><g filter="url(#vf2)">
<rect x="244" y="462" width="295" height="205" fill="#d4d4d4"/>
<ellipse cx="460" cy="620" rx="28" ry="26" fill="#949494"/>
<ellipse cx="385" cy="596" rx="38" ry="17" fill="#e6e6e6"/>
<ellipse cx="300" cy="570" rx="36" ry="16" fill="#b8b8b8"/>
<ellipse cx="473" cy="566" rx="34" ry="15" fill="#e3e3e3"/>
<ellipse cx="502" cy="536" rx="22" ry="23" fill="#949494"/>
<ellipse cx="421" cy="506" rx="22" ry="20" fill="#e3e3e3"/>
<ellipse cx="290" cy="578" rx="30" ry="12" fill="#b8b8b8"/>
<ellipse cx="366" cy="538.5" rx="34" ry="8" fill="#8c8c8c"/>
<ellipse cx="476" cy="632" rx="12" ry="20" fill="#6b6b6b"/>
<ellipse cx="470" cy="600" rx="20" ry="12" fill="#a8a8a8"/>
<ellipse cx="409" cy="560" rx="19" ry="11" fill="#9e9e9e"/>
<ellipse cx="378" cy="490" rx="17" ry="12" fill="#e0e0e0"/>
<ellipse cx="510" cy="534.5" rx="14" ry="13.5" fill="#666666"/>
<ellipse cx="379" cy="562" rx="15.5" ry="9.5" fill="#949494"/>
<ellipse cx="315" cy="572" rx="12.5" ry="8.5" fill="#666666"/>
<ellipse cx="335" cy="584" rx="14" ry="7.5" fill="#7a7a7a"/>
<ellipse cx="444.5" cy="589" rx="12.5" ry="6" fill="#949494"/>
<ellipse cx="324" cy="543" rx="8" ry="8" fill="#919191"/>
<ellipse cx="468" cy="647" rx="9" ry="7" fill="#616161"/>
<ellipse cx="363.5" cy="541" rx="11" ry="5.5" fill="#666666"/>
<ellipse cx="476.5" cy="545.6" rx="8.5" ry="7" fill="#808080"/>
<ellipse cx="448" cy="516" rx="8" ry="7" fill="#7a7a7a"/>
<ellipse cx="404" cy="531.5" rx="14" ry="4" fill="#949494"/>
<ellipse cx="433.5" cy="541.7" rx="9.5" ry="4.7" fill="#808080"/>
<ellipse cx="349" cy="521" rx="8" ry="5" fill="#999999"/>
<ellipse cx="460" cy="524.5" rx="8" ry="4.5" fill="#808080"/>
<ellipse cx="434" cy="577" rx="6" ry="6" fill="#6b6b6b"/>
<ellipse cx="423.5" cy="560" rx="5.5" ry="6" fill="#6b6b6b"/>
<ellipse cx="373.5" cy="505" rx="5.5" ry="5.5" fill="#808080"/>
<ellipse cx="352" cy="494" rx="4" ry="7" fill="#666666"/>
</g></g>
<rect x="513.4" y="616.5" width="10.6" height="52.7" fill="url(#cbar)"/>
<text x="510.3" y="597.8" class="cb" fill="#c8404f">µm</text>
<text x="510.3" y="610.8" class="cb" fill="#c8404f">177.21</text>
<text x="515.5" y="680.6" class="cb" fill="#4652c8">0</text>
<text x="440.8" y="684.2" class="ax" fill="#c85a78">646µm</text>
<polygon points="486.9,676.8 498.5,681.2 484.9,680.8" fill="#111"/>
<polygon points="252.7,552 256.5,562 252.3,563" fill="#111"/>
<text x="256.4" y="641.5" class="ax" fill="#3c32a0">0</text>
<text x="250.5" y="491.7" class="tagk">(g)</text>
<text x="480.6" y="486.7" class="nmk">BBs-10</text>
<rect x="243.6" y="696.4" width="304" height="224.5" fill="#fff" stroke="#4aab87" stroke-width="1.9"/>
<path d="M253.3,791 L350.2,703 L529.8,733.4 L477.5,902.8 L262.7,848 Z M350.2,703 V714.8" fill="none" stroke="#c9c9d3" stroke-width="0.8"/>
<g clip-path="url(#vc3)"><g filter="url(#vf3)">
<rect x="244" y="696.8" width="298.3" height="189.5" fill="#dedede"/>
<ellipse cx="360" cy="745" rx="40" ry="14" fill="#e3e3e3"/>
<ellipse cx="455" cy="830" rx="28" ry="18" fill="#a8a8a8"/>
<ellipse cx="330" cy="805" rx="40" ry="12" fill="#e0e0e0"/>
<ellipse cx="472" cy="810" rx="30" ry="11" fill="#595959"/>
<ellipse cx="429" cy="780" rx="26" ry="8" fill="#999999"/>
<ellipse cx="450" cy="850" rx="20" ry="8" fill="#e3e3e3"/>
<ellipse cx="370" cy="849" rx="10" ry="15" fill="#4c4c4c"/>
<ellipse cx="436" cy="857" rx="13" ry="11" fill="#808080"/>
<ellipse cx="411" cy="855" rx="8.5" ry="15" fill="#4c4c4c"/>
<ellipse cx="490" cy="774" rx="11" ry="8.5" fill="#808080"/>
<ellipse cx="402" cy="760" rx="11.5" ry="7" fill="#808080"/>
<ellipse cx="361" cy="763" rx="8.5" ry="8.5" fill="#808080"/>
<ellipse cx="473" cy="863" rx="9" ry="8" fill="#c2c2c2"/>
<ellipse cx="381" cy="792" rx="11.5" ry="6" fill="#919191"/>
<ellipse cx="443" cy="783.5" rx="12.5" ry="5.5" fill="#808080"/>
<ellipse cx="466.5" cy="761" rx="11" ry="6" fill="#7a7a7a"/>
<ellipse cx="393" cy="757.5" rx="8" ry="8" fill="#808080"/>
<ellipse cx="335" cy="786.5" rx="11" ry="5.5" fill="#919191"/>
<ellipse cx="353" cy="804" rx="8.5" ry="7" fill="#858585"/>
<ellipse cx="393" cy="844" rx="6.5" ry="8" fill="#a8a8a8"/>
<ellipse cx="415" cy="740" rx="11" ry="4.5" fill="#999999"/>
<ellipse cx="480" cy="834" rx="8.5" ry="5.5" fill="#949494"/>
<ellipse cx="404.7" cy="824.5" rx="8.5" ry="5.5" fill="#949494"/>
<ellipse cx="370" cy="838" rx="9" ry="5" fill="#8c8c8c"/>
<ellipse cx="272.7" cy="821" rx="6" ry="7" fill="#808080"/>
<ellipse cx="327.5" cy="767" rx="8" ry="5" fill="#919191"/>
<ellipse cx="483" cy="820" rx="10" ry="4" fill="#474747"/>
<ellipse cx="448.5" cy="745" rx="7" ry="5" fill="#858585"/>
<ellipse cx="346" cy="738" rx="6" ry="5.5" fill="#b8b8b8"/>
<ellipse cx="384" cy="728.5" rx="6" ry="5.5" fill="#b8b8b8"/>
<ellipse cx="411" cy="843" rx="8" ry="4" fill="#8c8c8c"/>
<ellipse cx="483" cy="790.5" rx="7" ry="4.5" fill="#949494"/>
<ellipse cx="374" cy="816" rx="6" ry="5" fill="#a8a8a8"/>
<ellipse cx="302.4" cy="831" rx="4.5" ry="6" fill="#6b6b6b"/>
<ellipse cx="339" cy="835" rx="5.5" ry="4.5" fill="#a8a8a8"/>
<ellipse cx="519" cy="767" rx="4" ry="6" fill="#8c8c8c"/>
<ellipse cx="434" cy="835.5" rx="6" ry="4" fill="#949494"/>
<ellipse cx="494" cy="835" rx="4" ry="5" fill="#4c4c4c"/>
<ellipse cx="437" cy="734" rx="5" ry="3" fill="#999999"/>
<ellipse cx="507" cy="748" rx="5" ry="3" fill="#adadad"/>
<ellipse cx="506" cy="782.5" rx="4" ry="3" fill="#949494"/>
</g></g>
<rect x="514.2" y="848" width="10" height="52.4" fill="url(#cbar)"/>
<text x="511" y="828.9" class="cb" fill="#c8404f">µm</text>
<text x="511" y="841.8" class="cb" fill="#c8404f">160.80</text>
<text x="515.8" y="912" class="cb" fill="#4652c8">0</text>
<text x="441.3" y="915.3" class="ax" fill="#c85a78">646µm</text>
<polygon points="488.8,904.8 500.4,909.2 486.8,908.8" fill="#111"/>
<polygon points="252.7,785 256.5,795 252.3,796" fill="#111"/>
<text x="255.6" y="870.8" class="ax" fill="#3c32a0">0</text>
<text x="250.5" y="722.5" class="tagk">(h)</text>
<text x="481.5" y="717.8" class="nmk">BBs-15</text>
<g>
<polygon points="622.6,209.2 651.5,182.7 1020.0,182.7 991.0,209.2" fill="#ffffcc"/>
<path d="M651.5,3.1 H1020.0 V182.7 H651.5 Z M622.6,29.7 L651.5,3.1 M622.6,209.2 L651.5,182.7 M991.0,209.2 L1020.0,182.7" fill="none" stroke="#8a8a8a" stroke-width="1"/>
<path d="M622.6,29.7 V209.2 H991.0" fill="none" stroke="#55554e" stroke-width="1.8"/>
<text x="614.6" y="214" text-anchor="end" class="tk">0</text>
<text x="614.6" y="192.9" text-anchor="end" class="tk">20</text>
<text x="614.6" y="171.9" text-anchor="end" class="tk">40</text>
<text x="614.6" y="150.8" text-anchor="end" class="tk">60</text>
<text x="614.6" y="129.8" text-anchor="end" class="tk">80</text>
<text x="614.6" y="108.7" text-anchor="end" class="tk">100</text>
<text x="614.6" y="87.7" text-anchor="end" class="tk">120</text>
<text x="614.6" y="66.6" text-anchor="end" class="tk">140</text>
<text x="614.6" y="45.6" text-anchor="end" class="tk">160</text>
<path d="M617.1,209.2 H622.6 M617.1,188.1 H622.6 M617.1,167.1 H622.6 M617.1,146 H622.6 M617.1,125 H622.6 M617.1,103.9 H622.6 M617.1,82.9 H622.6 M617.1,61.8 H622.6 M617.1,40.8 H622.6 M664.1,209.2 v5 M736.4,209.2 v5 M809,209.2 v5 M881.9,209.2 v5 M954.1,209.2 v5" stroke="#4a4a45" stroke-width="1.6" fill="none"/>
<polygon points="654,188.7 664.3,179.2 703.8,179.2 693.5,188.7" fill="#2fd9a2"/>
<polygon points="693.5,188.7 703.8,179.2 703.8,191.3 693.5,200.8" fill="#2bc998"/>
<rect x="654" y="188.7" width="39.5" height="12.1" fill="#36f0b4"/>
<text x="678.8" y="173.6" text-anchor="middle" class="vl" fill="#3fa588" stroke="#3fa588">11.45</text>
<text x="664.6" y="228.1" text-anchor="middle" class="ct">Sa</text>
<polygon points="726.2,185.9 736.5,176.4 776,176.4 765.7,185.9" fill="#9092f2"/>
<polygon points="765.7,185.9 776,176.4 776,191.3 765.7,200.8" fill="#8789ee"/>
<rect x="726.2" y="185.9" width="39.5" height="14.9" fill="#a3a5fb"/>
<text x="751" y="170.8" text-anchor="middle" class="vl" fill="#b08ad0" stroke="#b08ad0">14.12</text>
<text x="736.9" y="228.1" text-anchor="middle" class="ct">Sq</text>
<polygon points="798.9,159.6 809.2,150.1 848.7,150.1 838.4,159.6" fill="#b4c300"/>
<polygon points="838.4,159.6 848.7,150.1 848.7,191.3 838.4,200.8" fill="#a7b600"/>
<rect x="798.9" y="159.6" width="39.5" height="41.2" fill="#cfdf00"/>
<text x="823.6" y="144.5" text-anchor="middle" class="vl" fill="#b3b755" stroke="#b3b755">39.18</text>
<text x="809.5" y="228.1" text-anchor="middle" class="ct">Sp</text>
<polygon points="871.8,141.4 882.1,131.9 921.6,131.9 911.3,141.4" fill="#73a200"/>
<polygon points="911.3,141.4 921.6,131.9 921.6,191.3 911.3,200.8" fill="#699600"/>
<rect x="871.8" y="141.4" width="39.5" height="59.4" fill="#88bc00"/>
<text x="896.5" y="126.3" text-anchor="middle" class="vl" fill="#6b8e23" stroke="#6b8e23">56.38</text>
<text x="882.4" y="228.1" text-anchor="middle" class="ct">Sv</text>
<polygon points="944,100.2 954.3,90.7 993.8,90.7 983.5,100.2" fill="#1eb9e6"/>
<polygon points="983.5,100.2 993.8,90.7 993.8,191.3 983.5,200.8" fill="#1eb0dc"/>
<rect x="944" y="100.2" width="39.5" height="100.6" fill="#1fd2ff"/>
<text x="968.8" y="85.1" text-anchor="middle" class="vl" fill="#45bfc4" stroke="#45bfc4">95.56</text>
<text x="954.6" y="228.1" text-anchor="middle" class="ct">Sz</text>
<text x="564.1" y="26.4" class="tagb">(i)</text>
<text x="674.6" y="29.8" class="nmb">BBs-0</text>
<text transform="translate(588.0,119.7) rotate(-90)" text-anchor="middle" class="yl">Value (µm)</text>
</g>
<g>
<polygon points="622.6,440.7 651.5,414.2 1020.0,414.2 991.0,440.7" fill="#ffffcc"/>
<path d="M651.5,234.6 H1020.0 V414.2 H651.5 Z M622.6,261.2 L651.5,234.6 M622.6,440.7 L651.5,414.2 M991.0,440.7 L1020.0,414.2" fill="none" stroke="#8a8a8a" stroke-width="1"/>
<path d="M622.6,261.2 V440.7 H991.0" fill="none" stroke="#55554e" stroke-width="1.8"/>
<text x="614.6" y="445.5" text-anchor="end" class="tk">0</text>
<text x="614.6" y="424.4" text-anchor="end" class="tk">20</text>
<text x="614.6" y="403.4" text-anchor="end" class="tk">40</text>
<text x="614.6" y="382.3" text-anchor="end" class="tk">60</text>
<text x="614.6" y="361.3" text-anchor="end" class="tk">80</text>
<text x="614.6" y="340.2" text-anchor="end" class="tk">100</text>
<text x="614.6" y="319.2" text-anchor="end" class="tk">120</text>
<text x="614.6" y="298.1" text-anchor="end" class="tk">140</text>
<text x="614.6" y="277.1" text-anchor="end" class="tk">160</text>
<path d="M617.1,440.7 H622.6 M617.1,419.6 H622.6 M617.1,398.6 H622.6 M617.1,377.5 H622.6 M617.1,356.5 H622.6 M617.1,335.4 H622.6 M617.1,314.4 H622.6 M617.1,293.3 H622.6 M617.1,272.3 H622.6 M658.9,440.7 v5 M732.4,440.7 v5 M806.6,440.7 v5 M880.2,440.7 v5 M953.8,440.7 v5" stroke="#4a4a45" stroke-width="1.6" fill="none"/>
<polygon points="648.5,427.1 658.8,417.6 698.8,417.6 688.5,427.1" fill="#2fd9a2"/>
<polygon points="688.5,427.1 698.8,417.6 698.8,422.8 688.5,432.3" fill="#2bc998"/>
<rect x="648.5" y="427.1" width="40" height="5.2" fill="#36f0b4"/>
<text x="673.5" y="412" text-anchor="middle" class="vl" fill="#3fa588" stroke="#3fa588">4.94</text>
<text x="659.4" y="459.6" text-anchor="middle" class="ct">Sa</text>
<polygon points="722,425.1 732.3,415.6 772.3,415.6 762,425.1" fill="#9092f2"/>
<polygon points="762,425.1 772.3,415.6 772.3,422.8 762,432.3" fill="#8789ee"/>
<rect x="722" y="425.1" width="40" height="7.2" fill="#a3a5fb"/>
<text x="747" y="410" text-anchor="middle" class="vl" fill="#b08ad0" stroke="#b08ad0">6.81</text>
<text x="732.9" y="459.6" text-anchor="middle" class="ct">Sq</text>
<polygon points="796.2,403.8 806.5,394.3 846.5,394.3 836.2,403.8" fill="#b4c300"/>
<polygon points="836.2,403.8 846.5,394.3 846.5,422.8 836.2,432.3" fill="#a7b600"/>
<rect x="796.2" y="403.8" width="40" height="28.5" fill="#cfdf00"/>
<text x="821.2" y="388.7" text-anchor="middle" class="vl" fill="#b3b755" stroke="#b3b755">27.06</text>
<text x="807.1" y="459.6" text-anchor="middle" class="ct">Sp</text>
<polygon points="869.8,381.2 880.1,371.7 920.1,371.7 909.8,381.2" fill="#73a200"/>
<polygon points="909.8,381.2 920.1,371.7 920.1,422.8 909.8,432.3" fill="#699600"/>
<rect x="869.8" y="381.2" width="40" height="51.1" fill="#88bc00"/>
<text x="894.8" y="366.1" text-anchor="middle" class="vl" fill="#6b8e23" stroke="#6b8e23">48.55</text>
<text x="880.7" y="459.6" text-anchor="middle" class="ct">Sv</text>
<polygon points="943.4,352.7 953.7,343.2 993.7,343.2 983.4,352.7" fill="#1eb9e6"/>
<polygon points="983.4,352.7 993.7,343.2 993.7,422.8 983.4,432.3" fill="#1eb0dc"/>
<rect x="943.4" y="352.7" width="40" height="79.6" fill="#1fd2ff"/>
<text x="968.4" y="337.6" text-anchor="middle" class="vl" fill="#45bfc4" stroke="#45bfc4">75.61</text>
<text x="954.3" y="459.6" text-anchor="middle" class="ct">Sz</text>
<text x="564.0" y="257.5" class="tagb">(j)</text>
<text x="674.6" y="261.3" class="nmb">BBs-5</text>
<text transform="translate(587.4,351.2) rotate(-90)" text-anchor="middle" class="yl">Value (µm)</text>
</g>
<g>
<polygon points="622.6,671.7 651.5,645.2 1020.0,645.2 991.0,671.7" fill="#ffffcc"/>
<path d="M651.5,465.6 H1020.0 V645.2 H651.5 Z M622.6,492.2 L651.5,465.6 M622.6,671.7 L651.5,645.2 M991.0,671.7 L1020.0,645.2" fill="none" stroke="#8a8a8a" stroke-width="1"/>
<path d="M622.6,492.2 V671.7 H991.0" fill="none" stroke="#55554e" stroke-width="1.8"/>
<text x="614.6" y="676.5" text-anchor="end" class="tk">0</text>
<text x="614.6" y="655.4" text-anchor="end" class="tk">20</text>
<text x="614.6" y="634.4" text-anchor="end" class="tk">40</text>
<text x="614.6" y="613.3" text-anchor="end" class="tk">60</text>
<text x="614.6" y="592.3" text-anchor="end" class="tk">80</text>
<text x="614.6" y="571.2" text-anchor="end" class="tk">100</text>
<text x="614.6" y="550.2" text-anchor="end" class="tk">120</text>
<text x="614.6" y="529.1" text-anchor="end" class="tk">140</text>
<text x="614.6" y="508.1" text-anchor="end" class="tk">160</text>
<path d="M617.1,671.7 H622.6 M617.1,650.6 H622.6 M617.1,629.6 H622.6 M617.1,608.5 H622.6 M617.1,587.5 H622.6 M617.1,566.4 H622.6 M617.1,545.4 H622.6 M617.1,524.3 H622.6 M617.1,503.3 H622.6 M658.9,671.7 v5 M732.4,671.7 v5 M806.6,671.7 v5 M880.2,671.7 v5 M953.8,671.7 v5" stroke="#4a4a45" stroke-width="1.6" fill="none"/>
<polygon points="648.5,645.8 658.8,636.3 698.8,636.3 688.5,645.8" fill="#2fd9a2"/>
<polygon points="688.5,645.8 698.8,636.3 698.8,653.8 688.5,663.3" fill="#2bc998"/>
<rect x="648.5" y="645.8" width="40" height="17.5" fill="#36f0b4"/>
<text x="673.5" y="630.7" text-anchor="middle" class="vl" fill="#3fa588" stroke="#3fa588">16.59</text>
<text x="659.4" y="690.6" text-anchor="middle" class="ct">Sa</text>
<polygon points="722,639 732.3,629.5 772.3,629.5 762,639" fill="#9092f2"/>
<polygon points="762,639 772.3,629.5 772.3,653.8 762,663.3" fill="#8789ee"/>
<rect x="722" y="639" width="40" height="24.3" fill="#a3a5fb"/>
<text x="747" y="623.9" text-anchor="middle" class="vl" fill="#b08ad0" stroke="#b08ad0">23.08</text>
<text x="732.9" y="690.6" text-anchor="middle" class="ct">Sq</text>
<polygon points="796.2,616.4 806.5,606.9 846.5,606.9 836.2,616.4" fill="#b4c300"/>
<polygon points="836.2,616.4 846.5,606.9 846.5,653.8 836.2,663.3" fill="#a7b600"/>
<rect x="796.2" y="616.4" width="40" height="46.9" fill="#cfdf00"/>
<text x="821.2" y="601.3" text-anchor="middle" class="vl" fill="#b3b755" stroke="#b3b755">44.58</text>
<text x="807.1" y="690.6" text-anchor="middle" class="ct">Sp</text>
<polygon points="869.8,542.2 880.1,532.7 920.1,532.7 909.8,542.2" fill="#73a200"/>
<polygon points="909.8,542.2 920.1,532.7 920.1,653.8 909.8,663.3" fill="#699600"/>
<rect x="869.8" y="542.2" width="40" height="121.1" fill="#88bc00"/>
<text x="894.8" y="527.1" text-anchor="middle" class="vl" fill="#6b8e23" stroke="#6b8e23">115.07</text>
<text x="880.7" y="690.6" text-anchor="middle" class="ct">Sv</text>
<polygon points="943.4,495.2 953.7,485.7 993.7,485.7 983.4,495.2" fill="#1eb9e6"/>
<polygon points="983.4,495.2 993.7,485.7 993.7,653.8 983.4,663.3" fill="#1eb0dc"/>
<rect x="943.4" y="495.2" width="40" height="168.1" fill="#1fd2ff"/>
<text x="968.4" y="480.1" text-anchor="middle" class="vl" fill="#45bfc4" stroke="#45bfc4">159.65</text>
<text x="954.3" y="690.6" text-anchor="middle" class="ct">Sz</text>
<text x="563.8" y="489" class="tagb">(k)</text>
<text x="672.6" y="492.3" class="nmb">BBs-10</text>
<text transform="translate(587.4,582.2) rotate(-90)" text-anchor="middle" class="yl">Value (µm)</text>
</g>
<g>
<polygon points="622.6,904.4 651.5,877.9 1020.0,877.9 991.0,904.4" fill="#ffffcc"/>
<path d="M651.5,698.3 H1020.0 V877.9 H651.5 Z M622.6,724.9 L651.5,698.3 M622.6,904.4 L651.5,877.9 M991.0,904.4 L1020.0,877.9" fill="none" stroke="#8a8a8a" stroke-width="1"/>
<path d="M622.6,724.9 V904.4 H991.0" fill="none" stroke="#55554e" stroke-width="1.8"/>
<text x="614.6" y="909.2" text-anchor="end" class="tk">0</text>
<text x="614.6" y="888.1" text-anchor="end" class="tk">20</text>
<text x="614.6" y="867.1" text-anchor="end" class="tk">40</text>
<text x="614.6" y="846" text-anchor="end" class="tk">60</text>
<text x="614.6" y="825" text-anchor="end" class="tk">80</text>
<text x="614.6" y="803.9" text-anchor="end" class="tk">100</text>
<text x="614.6" y="782.9" text-anchor="end" class="tk">120</text>
<text x="614.6" y="761.8" text-anchor="end" class="tk">140</text>
<text x="614.6" y="740.8" text-anchor="end" class="tk">160</text>
<path d="M617.1,904.4 H622.6 M617.1,883.3 H622.6 M617.1,862.3 H622.6 M617.1,841.2 H622.6 M617.1,820.2 H622.6 M617.1,799.1 H622.6 M617.1,778.1 H622.6 M617.1,757 H622.6 M617.1,736 H622.6 M658.9,904.4 v5 M732.4,904.4 v5 M806.6,904.4 v5 M880.2,904.4 v5 M953.8,904.4 v5" stroke="#4a4a45" stroke-width="1.6" fill="none"/>
<polygon points="648.5,879.6 658.8,870.1 698.8,870.1 688.5,879.6" fill="#2fd9a2"/>
<polygon points="688.5,879.6 698.8,870.1 698.8,886.5 688.5,896" fill="#2bc998"/>
<rect x="648.5" y="879.6" width="40" height="16.4" fill="#36f0b4"/>
<text x="673.5" y="864.5" text-anchor="middle" class="vl" fill="#3fa588" stroke="#3fa588">15.62</text>
<text x="659.4" y="923.3" text-anchor="middle" class="ct">Sa</text>
<polygon points="722,872.4 732.3,862.9 772.3,862.9 762,872.4" fill="#9092f2"/>
<polygon points="762,872.4 772.3,862.9 772.3,886.5 762,896" fill="#8789ee"/>
<rect x="722" y="872.4" width="40" height="23.6" fill="#a3a5fb"/>
<text x="747" y="857.3" text-anchor="middle" class="vl" fill="#b08ad0" stroke="#b08ad0">22.40</text>
<text x="732.9" y="923.3" text-anchor="middle" class="ct">Sq</text>
<polygon points="796.2,856.3 806.5,846.8 846.5,846.8 836.2,856.3" fill="#b4c300"/>
<polygon points="836.2,856.3 846.5,846.8 846.5,886.5 836.2,896" fill="#a7b600"/>
<rect x="796.2" y="856.3" width="40" height="39.7" fill="#cfdf00"/>
<text x="821.2" y="841.2" text-anchor="middle" class="vl" fill="#b3b755" stroke="#b3b755">37.72</text>
<text x="807.1" y="923.3" text-anchor="middle" class="ct">Sp</text>
<polygon points="869.8,774.3 880.1,764.8 920.1,764.8 909.8,774.3" fill="#73a200"/>
<polygon points="909.8,774.3 920.1,764.8 920.1,886.5 909.8,896" fill="#699600"/>
<rect x="869.8" y="774.3" width="40" height="121.7" fill="#88bc00"/>
<text x="894.8" y="759.2" text-anchor="middle" class="vl" fill="#6b8e23" stroke="#6b8e23">115.56</text>
<text x="880.7" y="923.3" text-anchor="middle" class="ct">Sv</text>
<polygon points="943.4,734.6 953.7,725.1 993.7,725.1 983.4,734.6" fill="#1eb9e6"/>
<polygon points="983.4,734.6 993.7,725.1 993.7,886.5 983.4,896" fill="#1eb0dc"/>
<rect x="943.4" y="734.6" width="40" height="161.4" fill="#1fd2ff"/>
<text x="968.4" y="719.5" text-anchor="middle" class="vl" fill="#45bfc4" stroke="#45bfc4">153.28</text>
<text x="954.3" y="923.3" text-anchor="middle" class="ct">Sz</text>
<text x="564.0" y="718.8" class="tagb">(l)</text>
<text x="673.3" y="725" class="nmb">BBs-15</text>
<text transform="translate(584.8,814.9) rotate(-90)" text-anchor="middle" class="yl">Value (µm)</text>
</g>
<text x="807" y="945" text-anchor="middle" class="xl">Various roughness indices</text>
</svg>
</body></html>
